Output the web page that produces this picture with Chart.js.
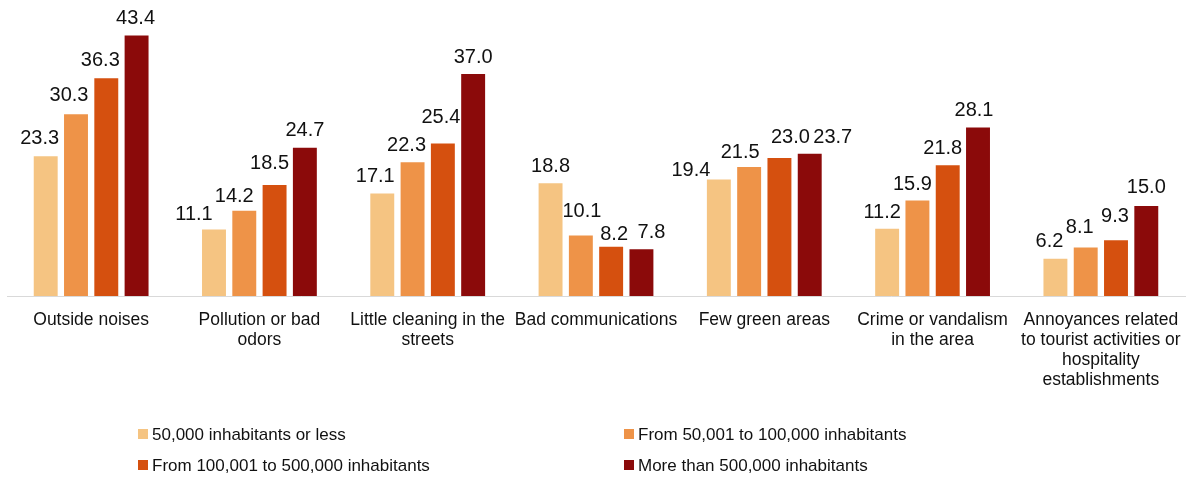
<!DOCTYPE html>
<html>
<head>
<meta charset="utf-8">
<script src="https://cdn.jsdelivr.net/npm/chart.js@4"></script>
<style>
  html, body { margin: 0; padding: 0; background: #fff; }
  #wrap { width: 1187px; height: 477px; position: relative; }
</style>
</head>
<body>
<div id="wrap"><canvas id="problemsChart"></canvas></div>
<script>
// categories and series
const categories = [
    'Outside noises',
    ['Pollution or bad', 'odors'],
    ['Little cleaning in the', 'streets'],
    'Bad communications',
    'Few green areas',
    ['Crime or vandalism', 'in the area'],
    ['Annoyances related', 'to tourist activities or', 'hospitality', 'establishments']
];
const seriesNames = [
    '50,000 inhabitants or less',
    'From 50,001 to 100,000 inhabitants',
    'From 100,001 to 500,000 inhabitants',
    'More than 500,000 inhabitants'
];
const small = [23.3, 11.1, 17.1, 18.8, 19.4, 11.2, 6.2];
const medium = [30.3, 14.2, 22.3, 10.1, 21.5, 15.9, 8.1];
const large = [36.3, 18.5, 25.4, 8.2, 23.0, 21.8, 9.3];
const biggest = [43.4, 24.7, 37.0, 7.8, 23.7, 28.1, 15.0];
const colors = ['#F5C482', '#EE9348', '#D5500F', '#8B0A0A'];

const FONT = '"Liberation Sans", Arial, sans-serif';

// the labels in the original were nudged by hand: [dx, gap above bar]
const labelNudge = [
    [[-6, 12], [-20, 9], [-7, 11], [0, 11], [-28, 4], [-5, 11], [-6, 12]],
    [[-7, 13], [-10, 9], [-6, 11], [1, 18], [-9, 9], [-5, 11], [-6, 14]],
    [[-6, 12], [-5, 16], [-2, 21], [3, 7], [11, 15], [-5, 11], [-1, 18]],
    [[-1, 12], [0, 12], [0, 11], [10, 11], [23, 11], [-4, 11], [0, 13]]
];

// value labels above each bar
const valueLabels = {
    id: 'valueLabels',
    afterDatasetsDraw(chart) {
        const ctx = chart.ctx;
        ctx.save();
        ctx.font = '20px ' + FONT;
        ctx.fillStyle = '#111';
        ctx.textAlign = 'center';
        ctx.textBaseline = 'alphabetic';
        chart.data.datasets.forEach((ds, i) => {
            chart.getDatasetMeta(i).data.forEach((bar, j) => {
                const [dx, gap] = labelNudge[i][j];
                ctx.fillText(ds.data[j].toFixed(1), bar.x + dx, bar.y - gap);
            });
        });
        ctx.restore();
    }
};

// two-column legend like the original
const gridLegend = {
    id: 'gridLegend',
    afterDraw(chart) {
        const ctx = chart.ctx;
        const cols = [138, 624];
        const rows = [434, 465];
        ctx.save();
        ctx.font = '17px ' + FONT;
        ctx.textBaseline = 'middle';
        ctx.textAlign = 'left';
        chart.data.datasets.forEach((ds, i) => {
            const x = cols[i % 2];
            const y = rows[Math.floor(i / 2)];
            ctx.fillStyle = ds.backgroundColor;
            ctx.fillRect(x, y - 5, 10, 10);
            ctx.fillStyle = '#111';
            ctx.fillText(ds.label, x + 14, y + 1);
        });
        ctx.restore();
    }
};

const ctx = document.getElementById('problemsChart').getContext('2d');
const chart = new Chart(ctx, {
    type: 'bar',
    data: {
        labels: categories,
        datasets: [small, medium, large, biggest].map((d, i) => ({
            label: seriesNames[i],
            data: d,
            backgroundColor: colors[i],
            categoryPercentage: 0.72,
            barPercentage: 0.79
        }))
    },
    options: {
        responsive: true,
        maintainAspectRatio: false,
        animation: false,
        layout: { padding: { left: 7, right: 2, top: 8, bottom: 0 } },
        plugins: {
            legend: { display: false },
            tooltip: { enabled: false }
        },
        scales: {
            x: {
                grid: { display: false, drawTicks: false },
                border: { display: true, color: '#d9d9d9', width: 1 },
                ticks: {
                    color: '#111',
                    font: { family: FONT, size: 17.5, lineHeight: 1.14 },
                    padding: 14,
                    maxRotation: 0,
                    autoSkip: false
                },
                afterFit(scale) {
                    scale.height = 181;
                    scale.paddingLeft = 0;
                    scale.paddingRight = 0;
                }
            },
            y: {
                display: false,
                min: 0,
                max: 48
            }
        }
    },
    plugins: [valueLabels, gridLegend]
});
</script>
</body>
</html>
